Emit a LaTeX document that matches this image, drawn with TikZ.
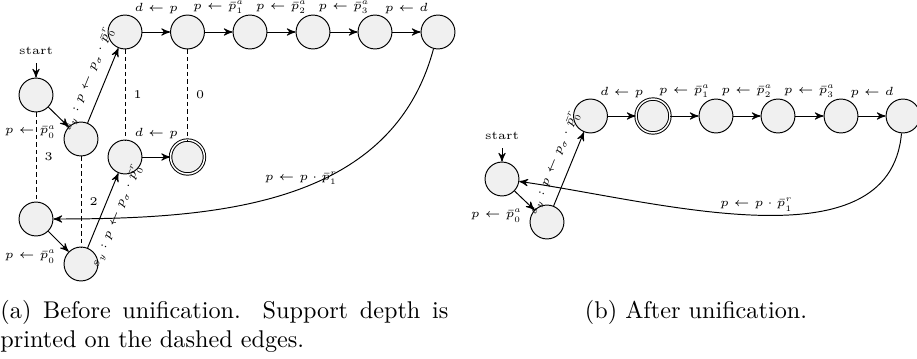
\RequirePackage{fix-cm}
\documentclass[tikz,border=0pt]{standalone}
\usepackage{amsmath}
\usepackage{amssymb}
\usepackage{tikz}
\usetikzlibrary{arrows}

\newcommand{\lblsize}{\fontsize{4.9}{5.9}\selectfont}

\begin{document}
\begin{tikzpicture}[x=0.413pt, y=-0.413pt, >=stealth',
    statenode/.style={circle, draw, fill=black!6, minimum size=14pt, inner sep=0pt},
    acceptnode/.style={statenode, double, double distance=0.6pt},
    lbl/.style={font=\lblsize},
    toplbl/.style={lbl, above=4pt},
    sidelbl/.style={lbl, below left, xshift=2.5pt},
    depthedge/.style={dash pattern=on 1.7pt off 1.4pt}]
    \useasboundingbox (0,0) rectangle (917,358);

    % Nodes (a)
    \node[lbl] (startA) at (36, 51) {start};
    \node[statenode] (A1) at (36, 95) {};
    \node[statenode] (A2) at (81, 139) {};
    \node[statenode] (A3) at (36, 219) {};
    \node[statenode] (A4) at (81, 264) {};
    \node[statenode] (B) at (125, 32) {};
    \node[statenode] (C) at (187.5, 32) {};
    \node[statenode] (E) at (250, 32) {};
    \node[statenode] (F) at (313, 32) {};
    \node[statenode] (G) at (375, 32) {};
    \node[statenode] (H) at (438, 32) {};
    \node[statenode] (D) at (125, 157) {};
    \node[acceptnode] (Dacc) at (187.5, 157) {};

    % Paths (a)
    \draw[->] (startA) -- (A1);
    \draw[->] (A1) -- node[sidelbl] {$p \leftarrow \bar{p}^a_0$} (A2);
    \draw[->] (A2) -- node[lbl, sloped, above] {$s_y : p \leftarrow p_\sigma \cdot \bar{p}^r_0$} (B);
    \draw[->] (A3) -- node[sidelbl] {$p \leftarrow \bar{p}^a_0$} (A4);
    \draw[->] (A4) -- node[lbl, sloped, below] {$s_y : p \leftarrow p_\sigma \cdot \bar{p}^r_0$} (D);
    \draw[->] (B) -- node[toplbl] {$d \leftarrow p$} (C);
    \draw[->] (C) -- node[toplbl] {$p \leftarrow \bar{p}^a_1$} (E);
    \draw[->] (E) -- node[toplbl] {$p \leftarrow \bar{p}^a_2$} (F);
    \draw[->] (F) -- node[toplbl] {$p \leftarrow \bar{p}^a_3$} (G);
    \draw[->] (G) -- node[toplbl] {$p \leftarrow d$} (H);
    \draw[->] (D) -- node[toplbl] {$d \leftarrow p$} (Dacc);
    \draw[depthedge] (A1) -- node[lbl, right] {3} (A3);
    \draw[depthedge] (A2) -- node[lbl, right] {2} (A4);
    \draw[depthedge] (B) -- node[lbl, right] {1} (D);
    \draw[depthedge] (C) -- node[lbl, right] {0} (Dacc);
    \draw[->] (H) to[out=-105, in=0] node[lbl, pos=0.47, above=-2pt] {$p \leftarrow p \cdot \bar{p}^r_1$} (A3);

    % Nodes (b)
    \node[lbl] (startR) at (502, 136) {start};
    \node[statenode] (R1) at (502, 179) {};
    \node[statenode] (R2) at (547, 222) {};
    \node[statenode] (R3) at (590.5, 116) {};
    \node[acceptnode] (R4) at (653, 116) {};
    \node[statenode] (R5) at (716, 116) {};
    \node[statenode] (R6) at (778, 116) {};
    \node[statenode] (R7) at (841, 116) {};
    \node[statenode] (R8) at (903, 116) {};

    % Paths (b)
    \draw[->] (startR) -- (R1);
    \draw[->] (R1) -- node[sidelbl] {$p \leftarrow \bar{p}^a_0$} (R2);
    \draw[->] (R2) -- node[lbl, sloped, above] {$s_y : p \leftarrow p_\sigma \cdot \bar{p}^r_0$} (R3);
    \draw[->] (R3) -- node[toplbl] {$d \leftarrow p$} (R4);
    \draw[->] (R4) -- node[toplbl] {$p \leftarrow \bar{p}^a_1$} (R5);
    \draw[->] (R5) -- node[toplbl] {$p \leftarrow \bar{p}^a_2$} (R6);
    \draw[->] (R6) -- node[toplbl] {$p \leftarrow \bar{p}^a_3$} (R7);
    \draw[->] (R7) -- node[toplbl] {$p \leftarrow d$} (R8);
    \draw[->] (R8) to[out=-95, in=-8, looseness=0.9] node[lbl, pos=0.5, above=-2pt] {$p \leftarrow p \cdot \bar{p}^r_1$} (R1);

    % Captions
    \node[anchor=north west, inner sep=0pt, text width=185pt, align=justify] (capA) at (0, 300)
        {(a) Before unification. Support depth is printed on the dashed edges.};
    \node[anchor=north, inner sep=0pt] (capB) at (696, 300) {(b) After unification.};
  \end{tikzpicture}
\end{document}
